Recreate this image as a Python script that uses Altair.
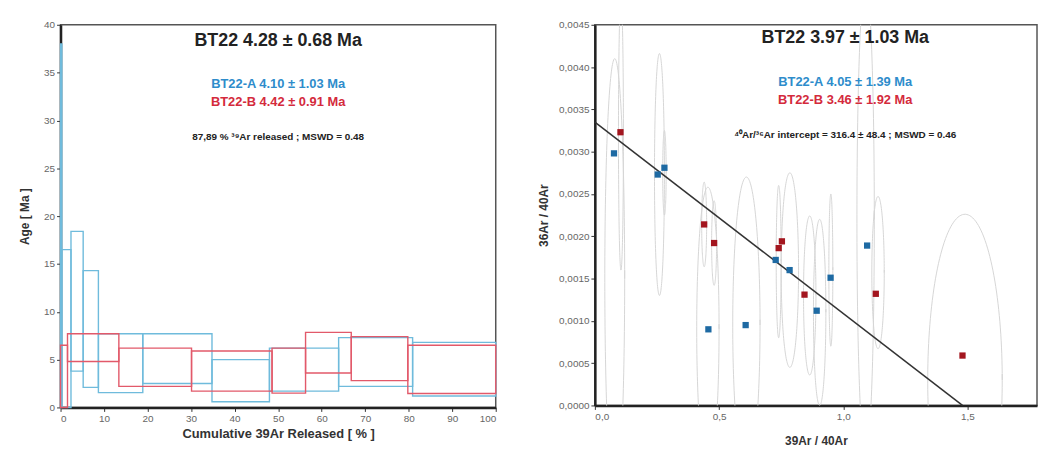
import altair as alt
import pandas as pd

FONT = "Liberation Sans"

# ---- Step-heating spectrum (left) ----
a_x0 = [0.0, 0.3, 2.4, 5.2, 8.7, 18.9, 34.8, 48.0, 63.9, 80.9]
a_x1 = [0.3, 2.4, 5.2, 8.7, 18.9, 34.8, 48.0, 63.9, 80.9, 100.0]
a_lo = [0.0, 0.0, 3.8, 2.1, 1.55, 2.5, 0.6, 1.7, 2.2, 1.2]
a_hi = [38.0, 16.5, 18.4, 14.3, 7.7, 7.7, 5.0, 6.2, 7.3, 6.8]

b_x0 = [0.0, 1.6, 13.4, 30.1, 48.6, 56.3, 66.8, 79.8]
b_x1 = [1.6, 13.4, 30.1, 48.6, 56.3, 66.8, 79.8, 100.0]
b_lo = [0.0, 4.8, 2.2, 1.7, 1.5, 3.6, 2.8, 1.45]
b_hi = [6.5, 7.7, 6.2, 5.9, 6.2, 7.85, 7.4, 6.5]

left_texts = ["BT22 4.28 ± 0.68 Ma", "BT22-A 4.10 ± 1.03 Ma", "BT22-B 4.42 ± 0.91 Ma",
              "87,89 % ³⁹Ar released ; MSWD = 0.48"]

# ---- Inverse isochron (right) ----
A_x = [0.077, 0.253, 0.28, 0.457, 0.607, 0.728, 0.784, 0.893, 0.949, 1.096]
A_y = [0.00298, 0.00273, 0.00281, 0.00090, 0.00095, 0.00172, 0.00160, 0.00112, 0.00151, 0.00189]
B_x = [0.103, 0.44, 0.48, 0.74, 0.753, 0.844, 1.131, 1.48]
B_y = [0.00323, 0.00214, 0.00192, 0.00186, 0.00194, 0.00131, 0.00132, 0.00059]

iso_x = [0.0, 1.48]
iso_y = [0.00335, 0.0]

e_cx = [0.08, 0.105, 0.26, 0.28, 0.44, 0.48, 0.455, 0.61, 0.74, 0.785, 0.865, 0.905, 0.95, 1.09, 1.14, 1.49]
e_cy = [0.0015, 0.0032, 0.00273, 0.00275, 0.00214, 0.00192, 0.0009, 0.00095, 0.0017, 0.0016, 0.0013, 0.0011, 0.0016, 0.0022, 0.00157, 0.0003]
e_rx = [0.04, 0.01, 0.02, 0.007, 0.01, 0.01, 0.045, 0.055, 0.01, 0.035, 0.025, 0.025, 0.008, 0.035, 0.025, 0.15]
e_ry = [0.0026, 0.0016, 0.00143, 0.0005, 0.0005, 0.0005, 0.00168, 0.00175, 0.0009, 0.00115, 0.00094, 0.0011, 0.0009, 0.0028, 0.0009, 0.00196]

right_texts = ["BT22 3.97 ± 1.03 Ma", "BT22-A 4.05 ± 1.39 Ma", "BT22-B 3.46 ± 1.92 Ma",
               "⁴⁰Ar/³⁶Ar intercept = 316.4 ± 48.4 ; MSWD = 0.46"]

left_xticks = [0, 10, 20, 30, 40, 50, 60, 70, 80, 90, 100]
left_yticks = [0, 5, 10, 15, 20, 25, 30, 35, 40]
right_xticks = [0.0, 0.5, 1.0, 1.5]
right_yticks = [0.0, 0.0005, 0.001, 0.0015, 0.002, 0.0025, 0.003, 0.0035, 0.004, 0.0045]

BLUE_L, RED_L = "#6fbbdc", "#e2596a"
BLUE_T, RED_T = "#2e8ccb", "#d42a3c"
BLUE_P, RED_P = "#1e6aa3", "#a3161f"

steps = pd.concat([
    pd.DataFrame({"s": "A", "x0": a_x0, "x1": a_x1, "lo": a_lo, "hi": a_hi}),
    pd.DataFrame({"s": "B", "x0": b_x0, "x1": b_x1, "lo": b_lo, "hi": b_hi}),
])

axis_common = dict(domainColor="#222", domainWidth=2.5, tickColor="#333", tickSize=4,
                   labelColor="#666", labelFontSize=10, labelFont=FONT, grid=False,
                   titleFont=FONT, titleFontWeight="bold", titleColor="#333")

xs = alt.Scale(domain=[0, 100], nice=False)
ys = alt.Scale(domain=[0, 40], nice=False)

rects = alt.Chart(steps).mark_rect(fillOpacity=0, strokeWidth=1.4).encode(
    x=alt.X("x0:Q", scale=xs, axis=alt.Axis(values=left_xticks, title="Cumulative 39Ar Released [ % ]",
                                             titleFontSize=13, titlePadding=4, **axis_common)),
    x2="x1:Q",
    y=alt.Y("lo:Q", scale=ys, axis=alt.Axis(values=left_yticks, title="Age [ Ma ]",
                                             titleFontSize=12, titlePadding=12, **axis_common)),
    y2="hi:Q",
    stroke=alt.Stroke("s:N", scale=alt.Scale(domain=["A", "B"], range=[BLUE_L, RED_L]), legend=None),
)

def text_layer(txt, xv, yv, color, size, xs_, ys_):
    df = pd.DataFrame({"t": [txt], "x": [xv], "y": [yv]})
    return alt.Chart(df).mark_text(font=FONT, fontWeight="bold", fontSize=size, color=color,
                                   align="center", baseline="middle").encode(
        x=alt.X("x:Q", scale=xs_), y=alt.Y("y:Q", scale=ys_), text="t:N")

left = alt.layer(
    rects,
    text_layer(left_texts[0], 50, 38.3, "#222", 18, xs, ys),
    text_layer(left_texts[1], 50, 33.8, BLUE_T, 13, xs, ys),
    text_layer(left_texts[2], 50, 31.9, RED_T, 13, xs, ys),
    text_layer(left_texts[3], 50, 28.3, "#222", 10, xs, ys),
).properties(width=439, height=386)

# right
rxs = alt.Scale(domain=[0, 1.78], nice=False)
rys = alt.Scale(domain=[0, 0.0045], nice=False)

ell = pd.DataFrame({"id": list(range(len(e_cx))), "cx": e_cx, "cy": e_cy, "rx": e_rx, "ry": e_ry})
ellipses = alt.Chart(ell).transform_calculate(
    t="sequence(0, 6.34, 0.04)"
).transform_flatten(["t"]).transform_calculate(
    ex="datum.cx + datum.rx * cos(datum.t)",
    ey="datum.cy + datum.ry * sin(datum.t)",
).mark_line(color="#d6d6d6", strokeWidth=1.0, clip=True).encode(
    x=alt.X("ex:Q", scale=rxs, axis=alt.Axis(values=right_xticks, title="39Ar / 40Ar",
                                              labelExpr="replace(format(datum.value, '.1f'), '.', ',')",
                                              titleFontSize=12, titlePadding=14, **axis_common)),
    y=alt.Y("ey:Q", scale=rys, axis=alt.Axis(values=right_yticks, title="36Ar / 40Ar",
                                              labelExpr="replace(format(datum.value, '.4f'), '.', ',')",
                                              titleFontSize=12, titlePadding=8, **axis_common)),
    detail="id:N",
    order="t:Q",
)

pts = pd.concat([
    pd.DataFrame({"s": "A", "x": A_x, "y": A_y}),
    pd.DataFrame({"s": "B", "x": B_x, "y": B_y}),
])
points = alt.Chart(pts).mark_point(shape="square", filled=True, size=40, opacity=1).encode(
    x=alt.X("x:Q", scale=rxs), y=alt.Y("y:Q", scale=rys),
    color=alt.Color("s:N", scale=alt.Scale(domain=["A", "B"], range=[BLUE_P, RED_P]), legend=None),
)

iso = alt.Chart(pd.DataFrame({"x": iso_x, "y": iso_y})).mark_line(color="#333", strokeWidth=1.5).encode(
    x=alt.X("x:Q", scale=rxs), y=alt.Y("y:Q", scale=rys))

right = alt.layer(
    ellipses, iso, points,
    text_layer(right_texts[0], 1.008, 0.00434, "#222", 18, rxs, rys),
    text_layer(right_texts[1], 1.008, 0.00382, BLUE_T, 13, rxs, rys),
    text_layer(right_texts[2], 1.008, 0.00361, RED_T, 13, rxs, rys),
    text_layer(right_texts[3], 1.008, 0.00320, "#222", 10, rxs, rys),
).properties(width=446, height=384)

chart = alt.hconcat(left, right, spacing=39).configure_view(
    stroke="#555", strokeWidth=1.5
).properties(padding={"left": 10, "top": 9, "right": 0, "bottom": 0})

chart.save("out.html", embed_options={"renderer": "svg", "actions": False})
